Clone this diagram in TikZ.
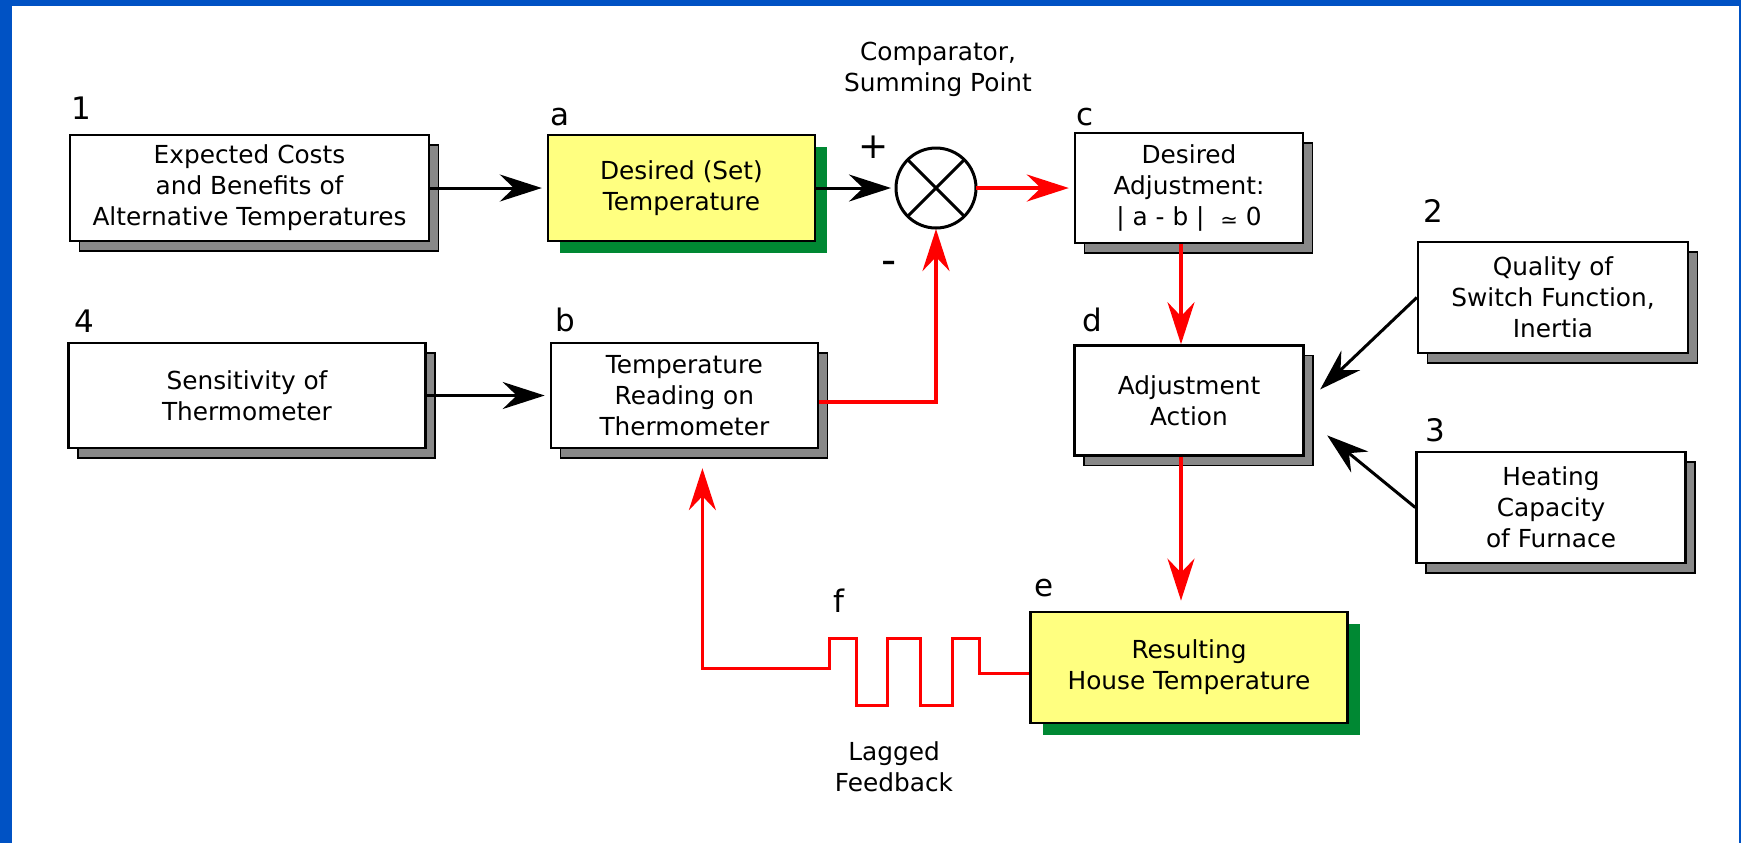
\documentclass[tikz,border=0pt]{standalone}
\usepackage{fontspec}
\setmainfont{DejaVu Sans}
\usetikzlibrary{
  arrows.meta,
  chains,
  scopes,
  positioning,
  shadows
}
\definecolor{frameblue}{RGB}{0,82,196}
\definecolor{setyellow}{RGB}{255,255,128}
\definecolor{setgreen}{RGB}{0,136,51}
\definecolor{shadowgray}{RGB}{136,136,136}

\begin{document}
\begin{tikzpicture}[
      x=0.5pt, y=-0.5pt,
      basebox/.style={
         rectangle,
         draw=black,
         line width=1.2pt,
         align=center,
         inner sep=2pt,
         font=\fontsize{12.4}{15.5}\selectfont
      },
      block/.style={
         basebox,
         fill=white,
         drop shadow={shadow xshift=4.75pt, shadow yshift=-5pt,
            opacity=1, fill=shadowgray, draw=black, line width=0.8pt}
      },
      setblock/.style={
         basebox,
         fill=setyellow,
         drop shadow={shadow xshift=6pt, shadow yshift=-6pt,
            opacity=1, fill=setgreen}
      },
      summer/.style={
         circle,
         draw=black,
         line width=1.5pt,
         minimum size=40pt,
         inner sep=0pt,
         outer sep=0pt
      },
      tag/.style={anchor=base west, inner sep=0pt, font=\fontsize{15.5}{18}\selectfont},
      note/.style={align=center, inner sep=0pt, font=\fontsize{12.4}{15.5}\selectfont},
      sign/.style={inner sep=0pt, font=\fontsize{18}{18}\selectfont},
      >={Stealth[length=21pt,width=13.5pt,inset=7pt]},
      tip/.style={->, shorten >=2.5pt, line width=1.5pt},
      hot/.style={draw=red, line width=1.8pt},
    ]
    % frame
    \useasboundingbox (0,0) rectangle (1741,843);
    \fill[frameblue] (0,0) rectangle (1741,843);
    \fill[white] (12,6) rectangle (1739,843);

    % blocks
    \node[block, minimum width=179.5pt, minimum height=53pt] (n1) at (249.5,188) {Expected Costs\\and Benefits of\\Alternative Temperatures};
    \node[setblock, minimum width=133.5pt, minimum height=53pt] (a) at (681.5,188) {Desired (Set)\\Temperature};
    \node[summer] (cmp) at (936,188) {};
    \node[block, minimum width=114pt, minimum height=55pt] (c) at (1189,188) {Desired\\Adjustment:\\| a - b |\ \ {\fontsize{10.5}{10.5}\selectfont\raisebox{-0.8pt}{≃}} 0};
    \node[block, minimum width=114.5pt, minimum height=55pt, below=50pt of c] (d) {Adjustment\\Action};
    \node[setblock, minimum width=158.5pt, minimum height=55.5pt, below=77pt of d] (e) {Resulting\\House Temperature};
    \node[block, minimum width=135pt, minimum height=55.5pt] (n2) at (1553,297.5) {Quality of\\Switch Function,\\Inertia};
    \node[block, minimum width=134.5pt, minimum height=55.5pt] (n3) at (1551,507.5) {Heating\\Capacity\\of Furnace};
    \node[block, minimum width=178.5pt, minimum height=52.5pt] (n4) at (247,395.5) {Sensitivity of\\Thermometer};
    \node[block, minimum width=133.5pt, minimum height=52.5pt, right=61.5pt of n4] (b) {Temperature\\Reading on\\Thermometer};
    \draw[line width=1.5pt] (cmp.north west) -- (cmp.south east) (cmp.north east) -- (cmp.south west);

    % tags and notes
    \node[tag] (l1) at (71,119) {1};
    \node[tag] (la) at (550,125) {a};
    \node[tag] (lc) at (1076,125) {c};
    \node[tag] (l2) at (1423,222) {2};
    \node[tag] (ld) at (1082,331) {d};
    \node[tag] (l3) at (1425,441) {3};
    \node[tag] (l4) at (74,332) {4};
    \node[tag] (lb) at (555,331) {b};
    \node[tag] (le) at (1034,596) {e};
    \node[tag] (lf) at (833,612) {f};
    \node[note] (cmpnote) at (938,69) {Comparator,\\Summing Point};
    \node[note] (lagnote) at (894,767) {Lagged\\Feedback};
    \node[sign] (plus) at (874,147) {+};
    \node[sign, font=\fontsize{21}{21}\selectfont] (minus) at (889,268) {-};

    % connectors
  { [start chain]
       \chainin (n1);
       \chainin (a)    [join=by tip];
  }
  { [start chain]
       \chainin (a);
       \chainin (cmp)    [join=by tip];
  }
  { [start chain]
       \chainin (cmp);
       \chainin (c)    [join=by {tip,hot}];
  }
  { [start chain]
       \chainin (n4);
       \chainin (b)    [join=by tip];
  }
    \draw[tip, hot, shorten >=0pt] ([xshift=-4pt]c.south) -- ([xshift=-4pt]d.north);
    \draw[tip, hot, shorten >=5pt] ([xshift=-4pt]d.south) -- ([xshift=-4pt]e.north);
    \draw[tip, shorten >=0pt] (n2.west) -- ([xshift=7.75pt,yshift=5.5pt]d.east);
    \draw[tip, shorten >=0pt] (n3.west) -- ([xshift=11.25pt,yshift=-17.5pt]d.east);
    \draw[tip, hot, shorten >=0.5pt] ([yshift=-3.25pt]b.east) -| (cmp.south);
    \draw[tip, hot, shorten >=9.5pt] ([yshift=-3pt]e.west) -- ++(-50,0) -- ++(0,-35) -- ++(-27,0)
       -- ++(0,67) -- ++(-32,0) -- ++(0,-67) -- ++(-33,0) -- ++(0,67) -- ++(-31,0)
       -- ++(0,-67) -- ++(-27,0) -- ++(0,30) -| ([xshift=9pt]b.south);
\end{tikzpicture}
\end{document}
